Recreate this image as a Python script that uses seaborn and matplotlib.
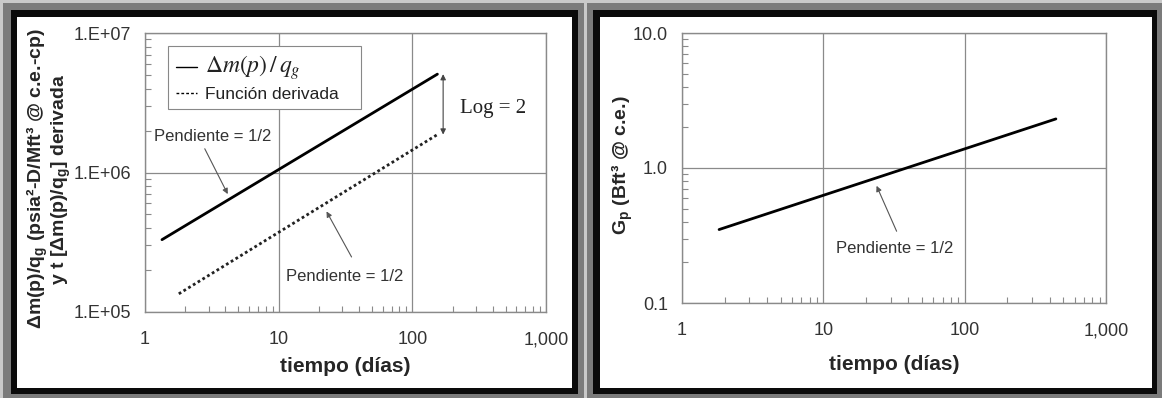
import matplotlib
matplotlib.use("Agg")
import matplotlib.pyplot as plt
import matplotlib.ticker as mticker
from matplotlib.patches import Rectangle
from matplotlib.lines import Line2D
import pandas as pd
import seaborn as sns

# left chart: pseudo-pressure function and its derivative
t_pres = [1.34, 154]
dm_pres = [3.3e5, 5.07e6]
t_deriv = [1.79, 154]
dm_deriv = [1.35e5, 1.87e6]

# right chart: cumulative gas production
t_gp = [1.83, 442]
gp = [0.35, 2.31]

x_ticks = [1, 10, 100, 1000]
x_labels = ["1", "10", "100", "1,000"]
left_yticks = [1e5, 1e6, 1e7]
left_ylabels = ["1.E+05", "1.E+06", "1.E+07"]
right_yticks = [0.1, 1, 10]
right_ylabels = ["0.1", "1.0", "10.0"]

sns.set_style("white")
plt.rcParams["font.family"] = ["Liberation Sans", "DejaVu Sans"]
plt.rcParams["mathtext.fontset"] = "custom"
plt.rcParams["mathtext.rm"] = "Liberation Sans"
plt.rcParams["mathtext.bf"] = "Liberation Sans:bold"
plt.rcParams["mathtext.it"] = "Liberation Sans:italic"

W, H = 1162, 398
fig = plt.figure(figsize=(W / 100, H / 100), dpi=100, facecolor="#c9c9c9")


def px_rect(x0, y0, x1, y1, color):
    fig.add_artist(Rectangle((x0 / W, 1 - y1 / H), (x1 - x0) / W, (y1 - y0) / H,
                             transform=fig.transFigure, facecolor=color,
                             edgecolor="none", zorder=-10))


# picture frames
for x0, x1 in [(3, 584), (587, 1162)]:
    px_rect(x0, 3, x1, 398, "#7b7b7b")
px_rect(11, 10, 578, 394, "#0a0a0a")
px_rect(17, 17, 572, 388, "white")
px_rect(593, 10, 1157, 394, "#0a0a0a")
px_rect(600, 17, 1152, 388, "white")

axL = fig.add_axes([145 / W, 1 - 312 / H, 401 / W, 279 / H])
axR = fig.add_axes([682 / W, 1 - 303 / H, 424 / W, 270 / H])

df_pres = pd.DataFrame({"t": t_pres, "v": dm_pres})
df_deriv = pd.DataFrame({"t": t_deriv, "v": dm_deriv})
df_gp = pd.DataFrame({"t": t_gp, "v": gp})

sns.lineplot(data=df_pres, x="t", y="v", ax=axL, color="black", lw=2)
sns.lineplot(data=df_deriv, x="t", y="v", ax=axL, color="#222222", lw=2, ls=(0, (1, 1)))
sns.lineplot(data=df_gp, x="t", y="v", ax=axR, color="black", lw=2)


def style_axes(ax, yticks, ylabels, ylim):
    ax.set_xscale("log")
    ax.set_yscale("log")
    ax.set_xlim(1, 1000)
    ax.set_ylim(*ylim)
    ax.set_xticks(x_ticks)
    ax.set_xticklabels(x_labels)
    ax.set_yticks(yticks)
    ax.set_yticklabels(ylabels)
    ax.xaxis.set_minor_locator(mticker.LogLocator(subs=range(2, 10)))
    ax.yaxis.set_minor_locator(mticker.LogLocator(subs=range(2, 10)))
    ax.xaxis.set_minor_formatter(mticker.NullFormatter())
    ax.yaxis.set_minor_formatter(mticker.NullFormatter())
    ax.tick_params(which="both", direction="in", bottom=True, left=True,
                   color="#8a8a8a", labelcolor="#333333")
    ax.tick_params(which="major", length=0, labelsize=13)
    ax.tick_params(which="minor", length=4, width=0.8)
    ax.tick_params(axis="x", which="major", pad=14)
    ax.tick_params(axis="y", which="major", pad=10)
    ax.grid(which="major", color="#8a8a8a", lw=0.9)
    ax.grid(which="minor", visible=False)
    for s in ax.spines.values():
        s.set_color("#8a8a8a")
        s.set_linewidth(1)
    ax.set_xlabel("tiempo (días)", fontsize=15, fontweight="bold", va="center")


style_axes(axL, left_yticks, left_ylabels, (1e5, 1e7))
style_axes(axR, right_yticks, right_ylabels, (0.1, 10))

axL.xaxis.set_label_coords(0.5, -0.194)
axR.xaxis.set_label_coords(0.5, -0.226)

axL.set_ylabel("Δm(p)/q$_\\mathbf{g}$ (psia²-D/Mft³ @ c.e.-cp)\ny t [Δm(p)/q$_\\mathbf{g}$] derivada",
               fontsize=14, fontweight="bold", va="center", linespacing=1.0)
axL.yaxis.set_label_coords(-0.24, 0.477)
axR.set_ylabel("G$_\\mathbf{p}$ (Bft³ @ c.e.)", fontsize=14, fontweight="bold", va="center")
axR.yaxis.set_label_coords(-0.14, 0.511)

# legend
handles = [Line2D([], [], color="black", lw=1),
           Line2D([], [], color="black", lw=1, ls=(0, (2, 1.5)))]
leg = axL.legend(handles, [r"$\Delta m(p)\,/\,q_g$", "Función derivada   "],
                 loc="upper left", bbox_to_anchor=(0.057, 0.955), borderaxespad=0,
                 fancybox=False, framealpha=1, edgecolor="#888888",
                 handlelength=1.2, handletextpad=0.5, fontsize=12.5, borderpad=0.45,
                 labelspacing=0.25)
leg.get_frame().set_linewidth(0.8)
leg.get_texts()[0].set_math_fontfamily("stix")
leg.get_texts()[0].set_fontsize(17)
for t in leg.get_texts():
    t.set_color("#222222")

arrow_kw = dict(arrowstyle="-|>", color="#555555", lw=0.8, mutation_scale=8,
                shrinkA=0, shrinkB=0)

# left annotations
axL.text(3.22, 1.82e6, "Pendiente = 1/2", fontsize=12, ha="center", va="center", color="#333333")
axL.annotate("", xy=(4.16, 7.0e5), xytext=(2.8, 1.48e6), arrowprops=arrow_kw)
axL.text(31.1, 1.81e5, "Pendiente = 1/2", fontsize=12, ha="center", va="center", color="#333333")
axL.annotate("", xy=(22.8, 5.26e5), xytext=(35.1, 2.48e5), arrowprops=arrow_kw)
axL.annotate("", xy=(170, 5.07e6), xytext=(170, 1.87e6),
             arrowprops=dict(arrowstyle="<|-|>", color="#444444", lw=0.8,
                             mutation_scale=8, shrinkA=0, shrinkB=0))
axL.text(402, 2.89e6, "Log = 2", fontsize=15, family="Liberation Serif",
         ha="center", va="center", color="#222222")

# right annotation
axR.text(31.9, 0.255, "Pendiente = 1/2", fontsize=12, ha="center", va="center", color="#333333")
axR.annotate("", xy=(23.8, 0.738), xytext=(33, 0.34), arrowprops=arrow_kw)

fig.savefig("out.png", dpi=100, facecolor=fig.get_facecolor())
